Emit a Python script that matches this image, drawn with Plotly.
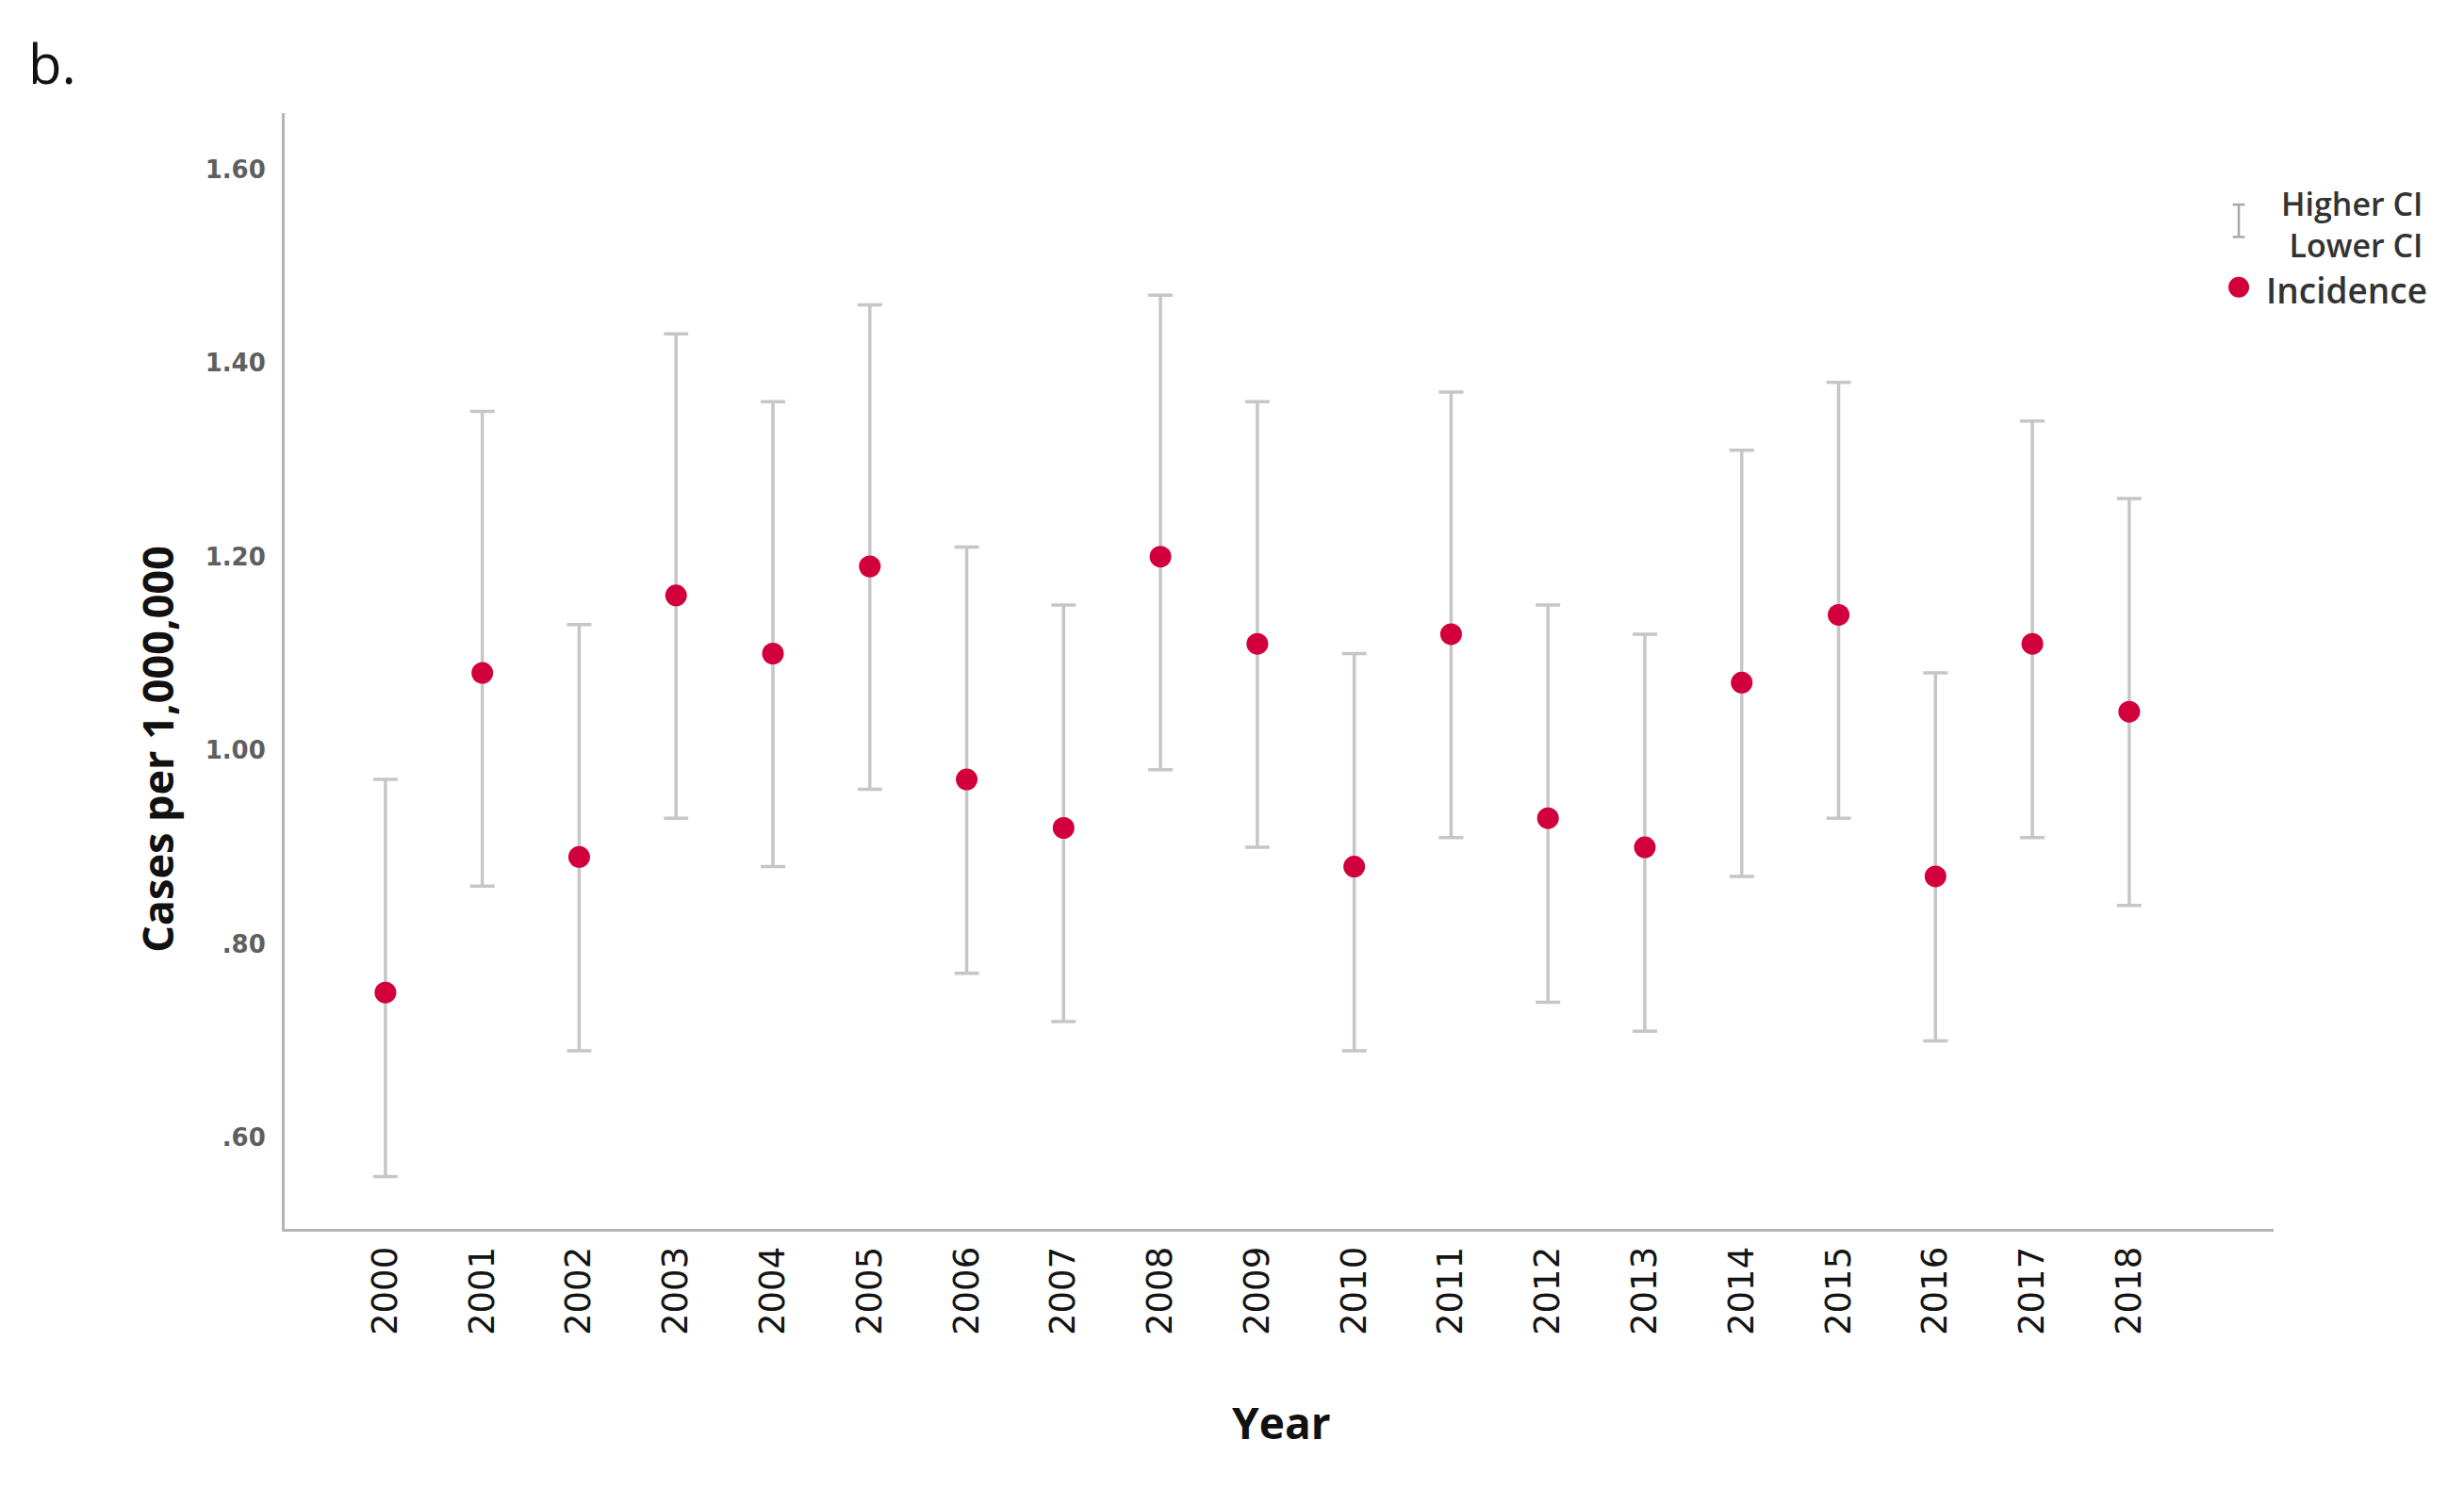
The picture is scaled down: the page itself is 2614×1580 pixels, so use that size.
import plotly.graph_objects as go

years = list(range(2000, 2019))
incidence = [0.75, 1.08, 0.89, 1.16, 1.10, 1.19, 0.97, 0.92, 1.20, 1.11,
             0.88, 1.12, 0.93, 0.90, 1.07, 1.14, 0.87, 1.11, 1.04]
higher_ci = [0.97, 1.35, 1.13, 1.43, 1.36, 1.46, 1.21, 1.15, 1.47, 1.36,
             1.10, 1.37, 1.15, 1.12, 1.31, 1.38, 1.08, 1.34, 1.26]
lower_ci = [0.56, 0.86, 0.69, 0.93, 0.88, 0.96, 0.77, 0.72, 0.98, 0.90,
            0.69, 0.91, 0.74, 0.71, 0.87, 0.93, 0.70, 0.91, 0.84]
y_ticks = [0.6, 0.8, 1.0, 1.2, 1.4, 1.6]
y_ticklabels = [".60", ".80", "1.00", "1.20", "1.40", "1.60"]

RED = "#d1003c"
GREY = "#c6c6c6"

err_plus = [h - m for h, m in zip(higher_ci, incidence)]
err_minus = [m - l for m, l in zip(incidence, lower_ci)]

fig = go.Figure()
fig.add_trace(go.Scatter(
    x=years, y=incidence, mode="markers", name="Incidence",
    marker=dict(color=RED, size=23),
    error_y=dict(type="data", symmetric=False, array=err_plus, arrayminus=err_minus,
                 color=GREY, thickness=3.5, width=13),
    showlegend=False,
))

fig.update_layout(
    width=2606, height=1572,
    paper_bgcolor="white", plot_bgcolor="white",
    margin=dict(l=294, r=202, t=112, b=276),
    showlegend=False,
    xaxis=dict(
        range=[1998.96, 2019.49], tickmode="array", tickvals=years,
        ticktext=[str(y) for y in years], tickangle=-90,
        tickfont=dict(family="DejaVu Sans", size=37, color="#141414"),
        showgrid=False, zeroline=False, showline=True, linecolor="#b5b5b5",
        linewidth=3, ticks="", ticklabelstandoff=1,
    ),
    yaxis=dict(
        range=[0.506, 1.658], tickmode="array", tickvals=y_ticks, ticktext=y_ticklabels,
        tickfont=dict(family="DejaVu Sans", size=26, color="#5f5f5f", weight="bold"),
        showgrid=False, zeroline=False, showline=True, linecolor="#b5b5b5",
        linewidth=3, ticks="", ticklabelstandoff=12,
    ),
)

# Axis titles (placed as in the reference)
fig.add_annotation(text="<b>Cases per 1,000,000</b>", xref="paper", yref="paper",
                   x=-0.064, y=0.43, xanchor="center", yanchor="middle", textangle=-90,
                   showarrow=False, font=dict(family="Open Sans", size=45, color="#111111"))
fig.add_annotation(text="<b>Year</b>", xref="paper", yref="paper",
                   x=0.501, y=-0.173, xanchor="center", yanchor="middle",
                   showarrow=False, font=dict(family="Open Sans", size=46, color="#111111"))

# Panel label
fig.add_annotation(text="b.", xref="paper", yref="paper", x=-0.13, y=1.045,
                   xanchor="left", yanchor="middle", showarrow=False,
                   font=dict(family="Open Sans", size=58, color="#111111"))

# Manual legend
lx = 0.9825
fig.add_shape(type="line", xref="paper", yref="paper", x0=lx, x1=lx, y0=0.889, y1=0.918,
              line=dict(color="#a8a8a8", width=2.5))
for yy in (0.889, 0.918):
    fig.add_shape(type="line", xref="paper", yref="paper", x0=lx - 0.003, x1=lx + 0.003, y0=yy, y1=yy,
                  line=dict(color="#a8a8a8", width=2.5))
fig.add_shape(type="circle", xref="paper", yref="paper", x0=lx - 0.0052, x1=lx + 0.0052,
              y0=0.844 - 0.0093, y1=0.844 + 0.0093, fillcolor=RED, line=dict(width=0))
fig.add_annotation(text="Higher CI<br>Lower CI", xref="paper", yref="paper", x=1.0765, y=0.900,
                   xanchor="right", yanchor="middle", align="right", showarrow=False,
                   font=dict(family="Open Sans", size=34, color="#333333", weight=600))
fig.add_annotation(text="Incidence", xref="paper", yref="paper", x=1.078, y=0.842,
                   xanchor="right", yanchor="middle", showarrow=False,
                   font=dict(family="Open Sans", size=37, color="#333333", weight=600))

fig.write_html("out.html")
